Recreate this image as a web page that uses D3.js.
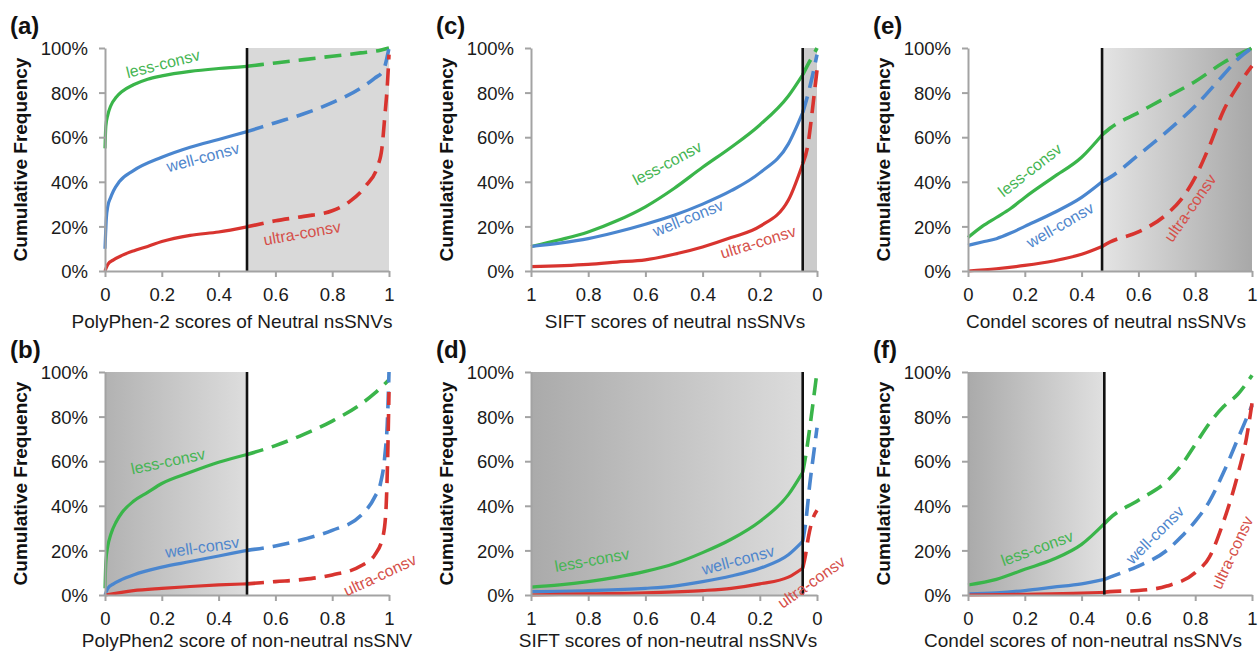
<!DOCTYPE html>
<html>
<head>
<meta charset="utf-8">
<script src="https://cdn.jsdelivr.net/npm/d3@7"></script>
<style>
  body { margin: 0; background: #fff; }
  svg { display: block; font-family: "Liberation Sans", Arial, sans-serif; }
</style>
</head>
<body>
<div id="viz"></div>
<script>
// ---- data: cumulative frequency (%) against score, one array per curve ----
const xTicks = [0, 0.2, 0.4, 0.6, 0.8, 1];
const yTicks = [0, 20, 40, 60, 80, 100];
const seriesNames = ["less-consv", "well-consv", "ultra-consv"];

// (a) PolyPhen-2, neutral
const aLess = [[0,55],[0.003,65],[0.01,70],[0.02,74],[0.04,78],[0.06,80.5],[0.1,83.5],[0.15,86],[0.2,87.5],[0.3,89.5],[0.4,90.8],[0.5,91.8],[0.6,93.3],[0.7,94.8],[0.8,96.3],[0.9,97.8],[0.97,99],[1,100]];
const aWell = [[0,10],[0.005,24],[0.01,29],[0.02,33],[0.03,36],[0.05,40],[0.1,45],[0.2,51],[0.3,55.5],[0.4,59],[0.5,62.5],[0.6,66.5],[0.7,70.5],[0.8,75.5],[0.9,82],[0.95,86.5],[0.98,90],[1,100]];
const aUltra = [[0,0],[0.01,3],[0.03,5],[0.06,7],[0.1,9],[0.15,11],[0.2,13.2],[0.3,16],[0.4,17.5],[0.5,19.8],[0.6,22.5],[0.7,24.5],[0.8,27],[0.86,31],[0.917,38],[0.96,47],[0.975,55],[0.985,69],[0.995,85],[1,97]];
// (b) PolyPhen2, non-neutral
const bLess = [[0,3],[0.003,15],[0.01,22],[0.02,27],[0.04,33],[0.06,37],[0.1,42],[0.15,46],[0.2,50],[0.3,55],[0.4,59.5],[0.5,63],[0.6,67],[0.7,72],[0.8,78],[0.9,85.5],[0.95,90.5],[1,96.5]];
const bWell = [[0,0],[0.01,3],[0.03,5],[0.06,7],[0.1,9],[0.2,12.5],[0.3,15],[0.4,17.5],[0.5,20],[0.6,22],[0.7,25],[0.8,29],[0.9,35.5],[0.95,44],[0.97,50],[0.985,62],[0.995,80],[1,100]];
const bUltra = [[0,0],[0.1,2],[0.2,3],[0.3,3.8],[0.4,4.5],[0.5,5],[0.6,6],[0.7,7],[0.8,9],[0.9,13],[0.95,18],[0.98,27],[0.99,40],[0.995,60],[1,91]];
// (c) SIFT, neutral (axis runs 1 -> 0)
const cLess = [[1,11],[0.9,14],[0.8,17.5],[0.7,22.5],[0.6,28.8],[0.5,37],[0.4,46.5],[0.3,55.5],[0.2,65.5],[0.1,78.5],[0.05,88],[0.03,93],[0.01,97.5],[0,100]];
const cWell = [[1,11],[0.9,12.5],[0.8,14.5],[0.7,17.5],[0.6,21],[0.5,25],[0.4,30],[0.3,36],[0.2,44],[0.1,57],[0.05,71],[0.03,80],[0.015,88],[0,97]];
const cUltra = [[1,2],[0.8,3],[0.7,4],[0.6,5],[0.5,7.5],[0.4,10.8],[0.3,15],[0.2,20],[0.1,31.8],[0.05,48],[0.03,58],[0.02,68],[0.01,79],[0,90]];
// (d) SIFT, non-neutral (axis runs 1 -> 0)
const dLess = [[1,3.5],[0.9,4.5],[0.8,6],[0.7,8],[0.6,10.6],[0.5,14],[0.4,19],[0.3,25],[0.2,33],[0.1,45],[0.05,55],[0.04,62],[0.02,80],[0.01,90],[0,100]];
const dWell = [[1,1.5],[0.8,2],[0.6,3],[0.5,4],[0.4,6],[0.3,8.5],[0.2,12],[0.1,18],[0.05,24],[0.04,32],[0.025,50],[0.01,65],[0,75]];
const dUltra = [[1,0],[0.8,0.5],[0.6,1],[0.4,2],[0.3,3],[0.2,5],[0.1,8],[0.05,12],[0.04,18],[0.03,26],[0.015,34],[0,38]];
// (e) Condel, neutral
const eLess = [[0,15],[0.05,20],[0.1,24],[0.15,28],[0.2,33],[0.3,42],[0.4,51],[0.472,61],[0.5,64],[0.6,71],[0.7,78],[0.8,85],[0.9,93.5],[0.95,97],[1,100]];
const eWell = [[0,11.5],[0.05,13],[0.1,14.5],[0.15,17],[0.2,20],[0.3,26],[0.4,33],[0.472,40],[0.5,42],[0.6,52],[0.7,62.5],[0.8,74],[0.9,88],[0.95,95],[1,100]];
const eUltra = [[0,0],[0.1,1],[0.2,2.5],[0.3,4.5],[0.4,7.5],[0.472,11],[0.5,13],[0.6,17.5],[0.7,25.5],[0.75,32],[0.8,42],[0.85,56],[0.9,72],[0.95,83],[1,92]];
// (f) Condel, non-neutral
const fLess = [[0,4.5],[0.1,7],[0.2,11.5],[0.3,16],[0.4,22.7],[0.48,32],[0.5,34.5],[0.6,42.5],[0.7,51],[0.75,58],[0.8,67.5],[0.85,77],[0.9,84.5],[0.95,90],[1,98.5]];
const fWell = [[0,0.5],[0.1,1],[0.2,2],[0.3,3.5],[0.4,5],[0.48,7],[0.5,8],[0.6,13],[0.7,20],[0.75,26],[0.8,33],[0.85,42],[0.9,55],[0.95,70],[1,85]];
const fUltra = [[0,0],[0.2,0.3],[0.4,0.8],[0.48,1.2],[0.5,1.5],[0.6,2],[0.7,4],[0.8,10],[0.85,17],[0.9,33],[0.95,54],[0.98,70],[1,86]];

// ---- layout ----
const W = 1258, H = 654;
const colLeft = [105, 531, 968];
const colWidth = [284, 286, 284];
const rowTop = [48, 372];
const plotH = 223;
const titleGap = [57, 52];
const colors = ["#3ab54a", "#4a86cf", "#d8342f"];
const textColors = ["#45b553", "#4f86cc", "#d5504a"];

const panels = [
  {id: "a", col: 0, row: 0, rev: false, thr: 0.5, shade: [0.5, 1], shadeCols: ["#d9d9d9", "#d9d9d9"],
   title: "PolyPhen-2 scores of Neutral nsSNVs", titleX: 232, series: [aLess, aWell, aUltra],
   labels: [[0.204, 93, -14], [0.345, 51, -15], [0.694, 17, -10]]},
  {id: "b", col: 0, row: 1, rev: false, thr: 0.5, shade: [0, 0.5], shadeCols: ["#b2b2b2", "#dddddd"],
   title: "PolyPhen2 score of non-neutral nsSNV", titleX: 247, series: [bLess, bWell, bUltra],
   labels: [[0.222, 60, -12], [0.342, 21.5, -8], [0.968, 9, -25]]},
  {id: "c", col: 1, row: 0, rev: true, thr: 0.05, shade: [0.05, 0], shadeCols: ["#cbcbcb", "#cbcbcb"],
   title: "SIFT scores of neutral nsSNVs", titleX: 675, series: [cLess, cWell, cUltra],
   labels: [[0.524, 48.4, -28], [0.451, 23.8, -22], [0.206, 13, -17]]},
  {id: "d", col: 1, row: 1, rev: true, thr: 0.05, shade: [1, 0.05], shadeCols: ["#aaaaaa", "#dcdcdc"],
   title: "SIFT scores of non-neutral nsSNVs", titleX: 668, series: [dLess, dWell, dUltra],
   labels: [[0.787, 15.7, -10], [0.276, 15.7, -15], [0.02, 5.8, -35]]},
  {id: "e", col: 2, row: 0, rev: false, thr: 0.472, shade: [0.472, 1], shadeCols: ["#e4e4e4", "#a8a8a8"],
   title: "Condel scores of neutral nsSNVs", titleX: 1106, series: [eLess, eWell, eUltra],
   labels: [[0.218, 45.3, -38], [0.324, 20.6, -30], [0.782, 28.3, -55]]},
  {id: "f", col: 2, row: 1, rev: false, thr: 0.48, shade: [0, 0.48], shadeCols: ["#aaaaaa", "#e0e0e0"],
   title: "Condel scores of non-neutral nsSNVs", titleX: 1083, series: [fLess, fWell, fUltra],
   labels: [[0.243, 21, -20], [0.658, 27, -45], [0.93, 19, -65]]}
];

const svg = d3.select("#viz").append("svg")
  .attr("width", W).attr("height", H)
  .attr("viewBox", "0 0 " + W + " " + H);
const defs = svg.append("defs");

panels.forEach(function (p) {
  let left = colLeft[p.col], top = rowTop[p.row];
  let x = d3.scaleLinear().domain(p.rev ? [1, 0] : [0, 1]).range([left, left + colWidth[p.col]]);
  let y = d3.scaleLinear().domain([0, 100]).range([top + plotH, top]);
  let g = svg.append("g").attr("class", "panel-" + p.id);

  // shaded region
  let gid = "grad-" + p.id;
  let grad = defs.append("linearGradient").attr("id", gid)
    .attr("x1", "0%").attr("x2", "100%").attr("y1", "0%").attr("y2", "0%");
  grad.append("stop").attr("offset", "0%").attr("stop-color", p.shadeCols[0]);
  grad.append("stop").attr("offset", "100%").attr("stop-color", p.shadeCols[1]);
  let sx = [x(p.shade[0]), x(p.shade[1])].sort((a, b) => a - b);
  g.append("rect")
    .attr("x", sx[0]).attr("y", y(100))
    .attr("width", sx[1] - sx[0]).attr("height", y(0) - y(100))
    .attr("fill", "url(#" + gid + ")");

  // curves: solid up to the cut-off, dashed after it
  let line = d3.line().x(d => x(d[0])).y(d => y(d[1])).curve(d3.curveMonotoneX);
  let inSolid = p.rev ? (d => d[0] >= p.thr) : (d => d[0] <= p.thr);
  p.series.forEach(function (s, i) {
    let solid = s.filter(inSolid);
    let dashed = s.filter(d => !inSolid(d));
    dashed.unshift(solid[solid.length - 1]);
    g.append("path").attr("d", line(solid))
      .attr("fill", "none").attr("stroke", colors[i]).attr("stroke-width", 3.2);
    g.append("path").attr("d", line(dashed))
      .attr("fill", "none").attr("stroke", colors[i]).attr("stroke-width", 3.6)
      .attr("stroke-dasharray", "17,9");
  });

  // cut-off line
  g.append("line")
    .attr("x1", x(p.thr)).attr("x2", x(p.thr))
    .attr("y1", y(0)).attr("y2", y(100))
    .attr("stroke", "#111").attr("stroke-width", 2.6);

  // axes
  let xAxis = g.append("g").attr("transform", "translate(0," + y(0) + ")")
    .call(d3.axisBottom(x).tickValues(xTicks).tickFormat(d => String(d)).tickSizeInner(6).tickSizeOuter(0).tickPadding(6));
  let yAxis = g.append("g").attr("transform", "translate(" + left + ",0)")
    .call(d3.axisLeft(y).tickValues(yTicks).tickFormat(d => d + "%").tickSizeInner(6).tickSizeOuter(0).tickPadding(11));
  [xAxis, yAxis].forEach(function (ax) {
    ax.select(".domain").attr("stroke", "#a3a3a3").attr("stroke-width", 2);
    ax.selectAll(".tick line").attr("stroke", "#a3a3a3").attr("stroke-width", 2);
    ax.selectAll(".tick text").attr("fill", "#1a1a1a").attr("font-size", 18.5)
      .attr("font-family", "Liberation Sans, Arial, sans-serif");
  });
  xAxis.selectAll(".tick text").attr("dy", "0.95em");
  yAxis.selectAll(".tick text").attr("dy", "0.36em");

  // axis titles
  g.append("text")
    .attr("x", p.titleX).attr("y", y(0) + titleGap[p.row])
    .attr("text-anchor", "middle").attr("font-size", 19).attr("fill", "#1a1a1a")
    .text(p.title);
  g.append("text")
    .attr("transform", "translate(" + (left - 78) + "," + (top + plotH / 2) + ") rotate(-90)")
    .attr("text-anchor", "middle").attr("font-size", 19).attr("font-weight", "bold").attr("fill", "#111")
    .text("Cumulative Frequency");

  // panel letter
  g.append("text")
    .attr("x", left - 95).attr("y", top - 14)
    .attr("font-size", 24).attr("font-weight", "bold").attr("fill", "#111")
    .text("(" + p.id + ")");

  // curve labels
  p.labels.forEach(function (l, i) {
    g.append("text")
      .attr("transform", "translate(" + x(l[0]) + "," + y(l[1]) + ") rotate(" + l[2] + ")")
      .attr("text-anchor", "middle").attr("dy", "0.35em")
      .attr("font-size", 16).attr("fill", textColors[i])
      .text(seriesNames[i]);
  });
});
</script>
</body>
</html>
